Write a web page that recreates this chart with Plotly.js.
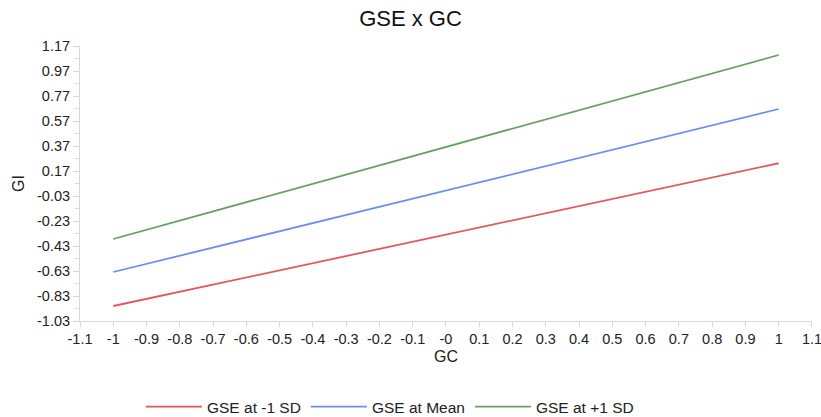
<!DOCTYPE html>
<html><head><meta charset="utf-8">
<script src="https://cdn.plot.ly/plotly-3.0.1.min.js"></script>
<style>html,body{margin:0;padding:0;background:#fff}#chart{width:821px;height:417px}</style>
</head><body><div id="chart"></div>
<script>
const gcValues = [-1, 1];
const seriesNames = ["GSE at -1 SD", "GSE at Mean", "GSE at +1 SD"];
const lowSD = [-0.91, 0.232];
const meanSD = [-0.638, 0.666];
const highSD = [-0.374, 1.098];
const xTickVals = [-1.1,-1,-0.9,-0.8,-0.7,-0.6,-0.5,-0.4,-0.3,-0.2,-0.1,0,0.1,0.2,0.3,0.4,0.5,0.6,0.7,0.8,0.9,1,1.1];
const xTickText = ["-1.1","-1","-0.9","-0.8","-0.7","-0.6","-0.5","-0.4","-0.3","-0.2","-0.1","-0","0.1","0.2","0.3","0.4","0.5","0.6","0.7","0.8","0.9","1","1.1"];
const yTickVals = [1.17,0.97,0.77,0.57,0.37,0.17,-0.03,-0.23,-0.43,-0.63,-0.83,-1.03];
const yTickText = ["1.17","0.97","0.77","0.57","0.37","0.17","-0.03","-0.23","-0.43","-0.63","-0.83","-1.03"];
const colors = ["#e4585b", "#6d8ef0", "#67a063"];

const font = "Liberation Sans, Arial, Helvetica, sans-serif";
const allSeries = [lowSD, meanSD, highSD];
const data = allSeries.map((ys, i) => ({
  x: gcValues, y: ys, type: "scatter", mode: "lines",
  name: seriesNames[i], line: {color: colors[i], width: 1.8}
}));
const layout = {
  width: 821, height: 417,
  margin: {l: 80, r: 9, t: 46, b: 96},
  paper_bgcolor: "#fff", plot_bgcolor: "#fff",
  font: {family: font, color: "#222", size: 14},
  title: {text: "GSE x GC", x: 0.5, xanchor: "center", y: 0.955, yanchor: "middle",
          font: {size: 22, color: "#111", family: font}},
  xaxis: {
    range: [-1.1, 1.1001], tickmode: "array", tickvals: xTickVals, ticktext: xTickText,
    showgrid: false, zeroline: false, showline: true, linecolor: "#d8d8d8", linewidth: 1,
    ticks: "outside", ticklen: 5, tickcolor: "#d8d8d8", tickfont: {size: 14.5, color: "#222"},
    ticklabeloverflow: "allow",
    title: {text: "GC", font: {size: 16, color: "#222"}, standoff: 4}
  },
  yaxis: {
    range: [-1.03, 1.17], tickmode: "array", tickvals: yTickVals, ticktext: yTickText,
    showgrid: false, zeroline: false, showline: true, linecolor: "#d8d8d8", linewidth: 1,
    ticks: "outside", ticklen: 6, tickcolor: "#d8d8d8", tickfont: {size: 14.5, color: "#222"},
    minor: {tickmode: "linear", tick0: 1.07, dtick: 0.2, ticks: "outside", ticklen: 4, tickcolor: "#d8d8d8", showgrid: false},
    title: {text: "GI", font: {size: 16, color: "#222"}, standoff: 8}
  },
  showlegend: true,
  legend: {orientation: "h", x: 0.475, xanchor: "center", xref: "container",
           y: 0.024, yanchor: "middle", yref: "container", itemwidth: 56,
           font: {size: 15.5, color: "#222"}, traceorder: "normal"}
};
Plotly.newPlot("chart", data, layout, {displayModeBar: false, staticPlot: true});
</script></body></html>
